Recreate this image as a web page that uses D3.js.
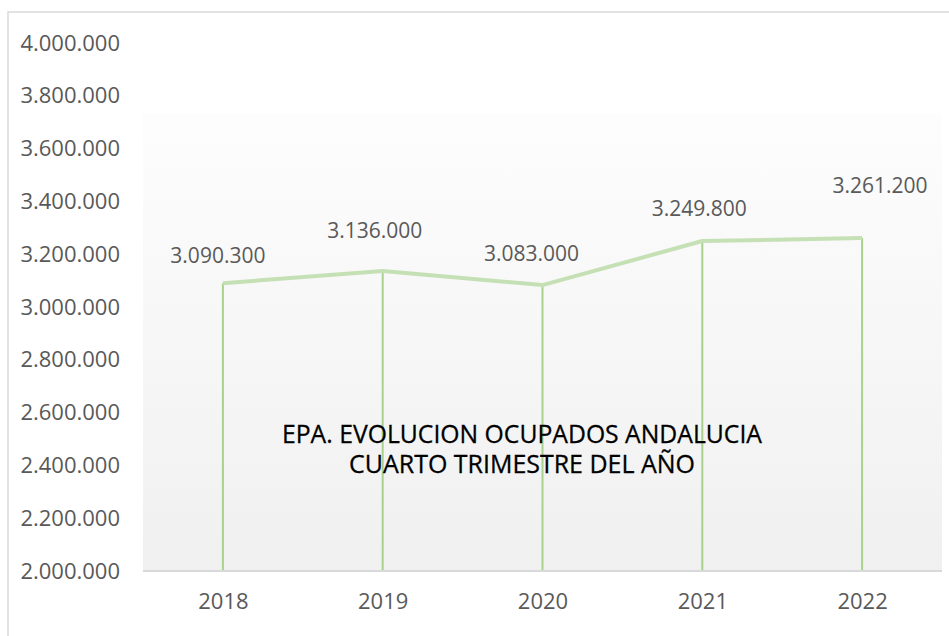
<!DOCTYPE html>
<html>
<head>
<meta charset="utf-8">
<script src="https://cdn.jsdelivr.net/npm/d3@7"></script>
<style>
  body { margin: 0; background: #fff; }
  svg { display: block; }
</style>
</head>
<body>
<div id="chart"></div>
<script>
// data
var years = ["2018", "2019", "2020", "2021", "2022"];
var ocupados = [3090300, 3136000, 3083000, 3249800, 3261200];
var yTicks = [2000000, 2200000, 2400000, 2600000, 2800000, 3000000, 3200000, 3400000, 3600000, 3800000, 4000000];
var titleLines = ["EPA. EVOLUCION OCUPADOS ANDALUCIA", "CUARTO TRIMESTRE DEL AÑO"];

// label nudges (Excel placed them by hand-ish)
var labelDx = [-5, -8, -11, -3, 18];
var labelDy = [-28, -40, -31, -32, -52];

var W = 949, H = 636;
var plot = { left: 143, right: 942, top: 113, bottom: 571 };

var svg = d3.select("#chart").append("svg")
    .attr("width", W)
    .attr("height", H);

// number format with dots
var fmt = d3.formatLocale({ decimal: ",", thousands: ".", grouping: [3], currency: ["", "€"] }).format(",d");

// outer frame
svg.append("rect")
    .attr("x", 8).attr("y", 12)
    .attr("width", W).attr("height", H)
    .attr("fill", "none")
    .attr("stroke", "#d9d9d9")
    .attr("stroke-width", 1.5);

// gradient for plot area
var grad = svg.append("defs").append("linearGradient")
    .attr("id", "bg")
    .attr("x1", 0).attr("y1", 0).attr("x2", 0).attr("y2", 1);
grad.append("stop").attr("offset", "0%").attr("stop-color", "#fdfdfd");
grad.append("stop").attr("offset", "100%").attr("stop-color", "#f0f0f0");

svg.append("rect")
    .attr("x", plot.left).attr("y", plot.top)
    .attr("width", plot.right - plot.left)
    .attr("height", plot.bottom - plot.top)
    .attr("fill", "url(#bg)");

// scales
var x = d3.scalePoint()
    .domain(years)
    .range([plot.left, plot.right])
    .padding(0.5);

var y = d3.scaleLinear()
    .domain([2000000, 4000000])
    .range([plot.bottom, 43]);

// Y axis (labels only)
var yAxis = svg.append("g")
    .attr("transform", "translate(120,0)")
    .call(d3.axisLeft(y).tickValues(yTicks).tickFormat(fmt).tickSize(0).tickPadding(0));
yAxis.select(".domain").remove();
yAxis.selectAll("text")
    .attr("fill", "#595959")
    .style("font-family", "'Open Sans', sans-serif")
    .style("font-size", "22px");

// X axis
var xAxis = svg.append("g")
    .attr("transform", "translate(0," + plot.bottom + ")")
    .call(d3.axisBottom(x).tickSize(0).tickPadding(22));
xAxis.select(".domain")
    .attr("d", "M" + plot.left + ",0H" + plot.right)
    .attr("stroke", "#d9d9d9")
    .attr("stroke-width", 2);
xAxis.selectAll("text")
    .attr("fill", "#595959")
    .style("font-family", "'Open Sans', sans-serif")
    .style("font-size", "22px");

var data = years.map(function (d, i) { return { year: d, value: ocupados[i], i: i }; });

// drop lines
svg.append("g").selectAll("line")
    .data(data)
    .join("line")
    .attr("x1", function (d) { return x(d.year); })
    .attr("x2", function (d) { return x(d.year); })
    .attr("y1", function (d) { return y(d.value); })
    .attr("y2", plot.bottom - 1)
    .attr("stroke", "#a9d18e")
    .attr("stroke-width", 2);

// the line
svg.append("path")
    .datum(data)
    .attr("fill", "none")
    .attr("stroke", "#c5e0b4")
    .attr("stroke-width", 4)
    .attr("stroke-linejoin", "round")
    .attr("d", d3.line()
        .x(function (d) { return x(d.year); })
        .y(function (d) { return y(d.value); })
    );

// data labels
svg.append("g").selectAll("text")
    .data(data)
    .join("text")
    .attr("x", function (d) { return x(d.year) + labelDx[d.i]; })
    .attr("y", function (d) { return y(d.value) + labelDy[d.i]; })
    .attr("dy", "0.35em")
    .attr("text-anchor", "middle")
    .attr("fill", "#595959")
    .style("font-family", "'Open Sans', sans-serif")
    .style("font-size", "21px")
    .text(function (d) { return fmt(d.value); });

// title inside plot
var titleWidths = [480, 346];
svg.append("g").selectAll("text")
    .data(titleLines)
    .join("text")
    .attr("x", 522)
    .attr("y", function (d, i) { return 443 + i * 30; })
    .attr("text-anchor", "middle")
    .attr("textLength", function (d, i) { return titleWidths[i]; })
    .attr("lengthAdjust", "spacingAndGlyphs")
    .attr("fill", "#000")
    .attr("stroke", "#000")
    .attr("stroke-width", 0.3)
    .style("font-family", "'Open Sans', sans-serif")
    .style("font-size", "26px")
    .text(function (d) { return d; });
</script>
</body>
</html>
